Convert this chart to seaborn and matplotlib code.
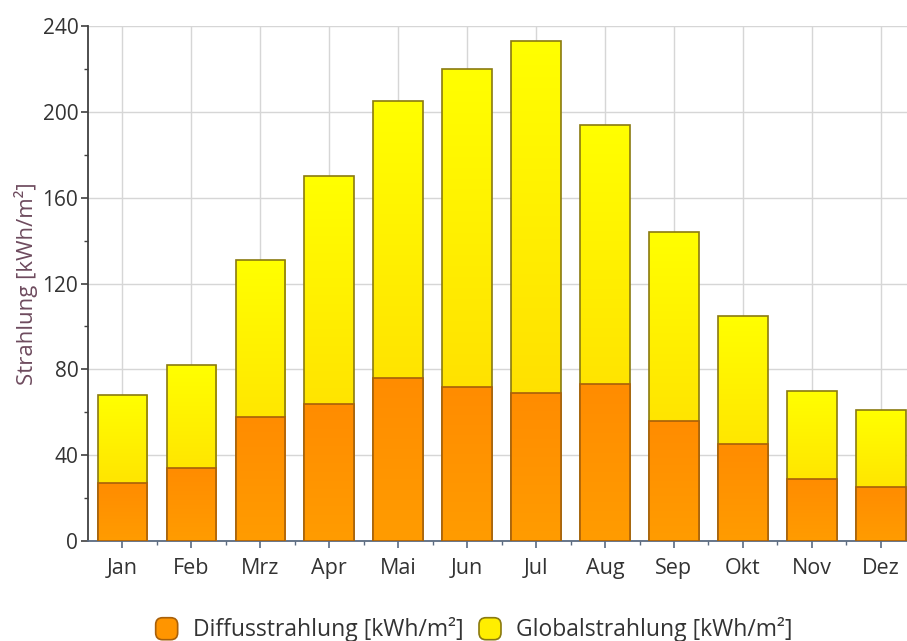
import numpy as np
import pandas as pd
import matplotlib
matplotlib.use("Agg")
import matplotlib.pyplot as plt
from matplotlib.colors import LinearSegmentedColormap
from matplotlib.patches import Patch, FancyBboxPatch
from matplotlib.legend_handler import HandlerPatch
import seaborn as sns

months = ["Jan", "Feb", "Mrz", "Apr", "Mai", "Jun", "Jul", "Aug", "Sep", "Okt", "Nov", "Dez"]
global_vals = [68, 82, 131, 170, 205, 220, 233, 194, 144, 105, 70, 61]
diffuse_vals = [27, 34, 58, 64, 76, 72, 69, 73, 56, 45, 29, 25]
yticks = [0, 40, 80, 120, 160, 200, 240]
ylabel = "Strahlung [kWh/m²]"
legend_labels = ["Diffusstrahlung [kWh/m²]", "Globalstrahlung [kWh/m²]"]

sns.set_theme(style="white")
plt.rcParams["font.family"] = ["Open Sans", "DejaVu Sans"]

df = pd.DataFrame({"Monat": months, "Global": global_vals, "Diffus": diffuse_vals})

fig = plt.figure(figsize=(9.07, 6.41), dpi=100)
ax = fig.add_axes([88 / 907, 100 / 641, (907 - 88) / 907, (541 - 26) / 641])

sns.barplot(data=df, x="Monat", y="Global", color="#FFEE00", width=0.72,
            edgecolor="#8A7A10", linewidth=1.2, ax=ax, zorder=3)
n_global = len(ax.patches)
sns.barplot(data=df, x="Monat", y="Diffus", color="#FF9500", width=0.72,
            edgecolor="#A8600A", linewidth=1.2, ax=ax, zorder=4)

# gradient fills
yellow_cmap = LinearSegmentedColormap.from_list("y", ["#FFD400", "#FFFF00"])
orange_cmap = LinearSegmentedColormap.from_list("o", ["#FF9C00", "#FF8C00"])
grad = np.linspace(0, 1, 256).reshape(-1, 1)
for i, p in enumerate(ax.patches):
    x0, y0 = p.get_x(), p.get_y()
    w, h = p.get_width(), p.get_height()
    cmap = yellow_cmap if i < n_global else orange_cmap
    z = p.get_zorder()
    im = ax.imshow(grad, cmap=cmap, aspect="auto", origin="lower",
                   extent=[x0, x0 + w, y0, y0 + h], zorder=z, interpolation="bicubic")
    im.set_clip_path(p)
    p.set_facecolor("none")
    p.set_zorder(z + 0.5)

ax.set_xlim(-0.5, 11.38)
ax.set_ylim(0, 240)

ax.set_yticks(yticks)
ax.set_yticks(np.arange(20, 240, 40), minor=True)
ax.set_xticks(np.arange(0.5, 11.5, 1), minor=True)
ax.grid(True, which="major", color="#D6D6D6", linewidth=1, zorder=0)
ax.set_axisbelow(True)

for s in ["top", "right"]:
    ax.spines[s].set_visible(False)
ax.spines["left"].set_color("#404040")
ax.spines["left"].set_linewidth(1.3)
ax.spines["bottom"].set_color("#5A6A80")
ax.spines["bottom"].set_linewidth(1.3)

ax.tick_params(axis="y", which="major", length=5, width=1.2, color="#404040",
               labelsize=15, labelcolor="#333333", left=True, pad=2)
ax.tick_params(axis="y", which="minor", length=3, width=1, color="#404040", left=True)
ax.tick_params(axis="x", which="major", length=5, width=1.2, color="#5A6A80",
               labelsize=15.5, labelcolor="#333333", bottom=True, pad=7)
ax.tick_params(axis="x", which="minor", length=3, width=1, color="#5A6A80", bottom=True)

ax.set_xlabel("")
ax.set_ylabel(ylabel, fontsize=16, color="#6E4B5E", labelpad=3)


class RoundHandler(HandlerPatch):
    def create_artists(self, legend, orig_handle, xdescent, ydescent, width, height,
                       fontsize, trans):
        s = min(width, height)
        x = -xdescent + (width - s) / 2
        y = -ydescent + (height - s) / 2
        p = FancyBboxPatch((x + 3, y + 3), s - 6, s - 6,
                           boxstyle="round,pad=3,rounding_size=5",
                           facecolor=orig_handle.get_facecolor(),
                           edgecolor=orig_handle.get_edgecolor(), linewidth=1.2,
                           transform=trans)
        return [p]


handles = [
    Patch(facecolor="#FF9500", edgecolor="#A8600A"),
    Patch(facecolor="#FFEE00", edgecolor="#8A7A10"),
]
fig.legend(handles, legend_labels, loc="center", bbox_to_anchor=(0.522, 1 - 630 / 641),
           ncol=2, frameon=False, fontsize=16.5, handletextpad=0.6, columnspacing=0.6,
           handlelength=1.1, handleheight=1.1, labelcolor="#333333",
           handler_map={Patch: RoundHandler()})

fig.savefig("out.png", dpi=100)
